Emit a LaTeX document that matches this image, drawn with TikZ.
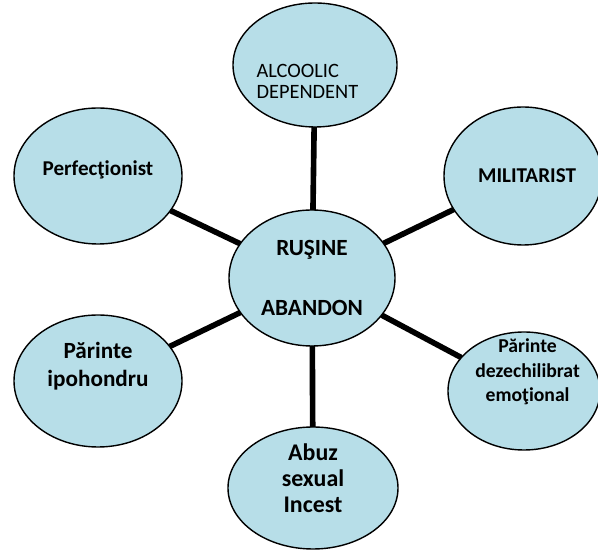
\documentclass[tikz,border=0pt]{standalone}
\usepackage{fontspec}
\setmainfont{Carlito}
\usetikzlibrary{shapes.geometric}

\definecolor{bubblefill}{RGB}{183,222,232}

\begin{document}
\begin{tikzpicture}[
    bubble/.style={ellipse, draw=black, line width=1pt, fill=bubblefill, inner sep=0pt, outer sep=0pt},
    link/.style={line width=4pt, black},
    txt/.style={align=center, inner sep=0pt},
]
\useasboundingbox (0,0) rectangle (14.95,13.8);

% === Centre ===
\node[bubble, minimum width=4.15cm, minimum height=3.4cm,
      label={[txt, font=\fontsize{16.5pt}{42pt}\selectfont\bfseries]center:{RUŞINE\\ABANDON}}]
      (centre) at (7.80,6.85) {};

% === Outer bubbles ===
\node[bubble, minimum width=4.1cm, minimum height=3.1cm,
      label={[txt, align=left, font=\fontsize{14.5pt}{15.6pt}\selectfont, xshift=-0.19cm, yshift=-0.41cm]center:{ALCOOLIC\\DEPENDENT}}]
      (alc) at (7.875,12.175) {};
\node[bubble, minimum width=4.2cm, minimum height=3.4cm,
      label={[txt, font=\fontsize{15pt}{18pt}\selectfont\bfseries, yshift=0.15cm]center:{Perfecţionist}}]
      (perf) at (2.45,9.4) {};
\node[bubble, minimum width=3.95cm, minimum height=3.45cm,
      label={[txt, font=\fontsize{15pt}{18pt}\selectfont\bfseries, xshift=0.1cm]center:{MILITARIST}}]
      (mil) at (13.075,9.4) {};
\node[bubble, minimum width=3.8cm, minimum height=2.95cm,
      label={[txt, font=\fontsize{14pt}{17.4pt}\selectfont\bfseries, xshift=0.09cm, yshift=0.47cm]center:{Părinte\\dezechilibrat\\emoţional}}]
      (dez) at (13.1,4.025) {};
\node[bubble, minimum width=4.2cm, minimum height=3.3cm,
      label={[txt, font=\fontsize{16.5pt}{20pt}\selectfont\bfseries, yshift=0.37cm]center:{Părinte\\ipohondru}}]
      (ipo) at (2.45,4.275) {};
\node[bubble, minimum width=4.25cm, minimum height=3.05cm,
      label={[txt, font=\fontsize{17pt}{18.5pt}\selectfont\bfseries, yshift=0.25cm]center:{Abuz\\sexual\\Incest}}]
      (abuz) at (7.825,1.6) {};

% Connectors
\draw[link] (centre) -- (alc);
\draw[link] (centre) -- (perf);
\draw[link] (centre) -- (mil);
\draw[link] (centre) -- (dez);
\draw[link] (centre) -- (ipo);
\draw[link] (centre) -- (abuz);

\end{tikzpicture}
\end{document}
